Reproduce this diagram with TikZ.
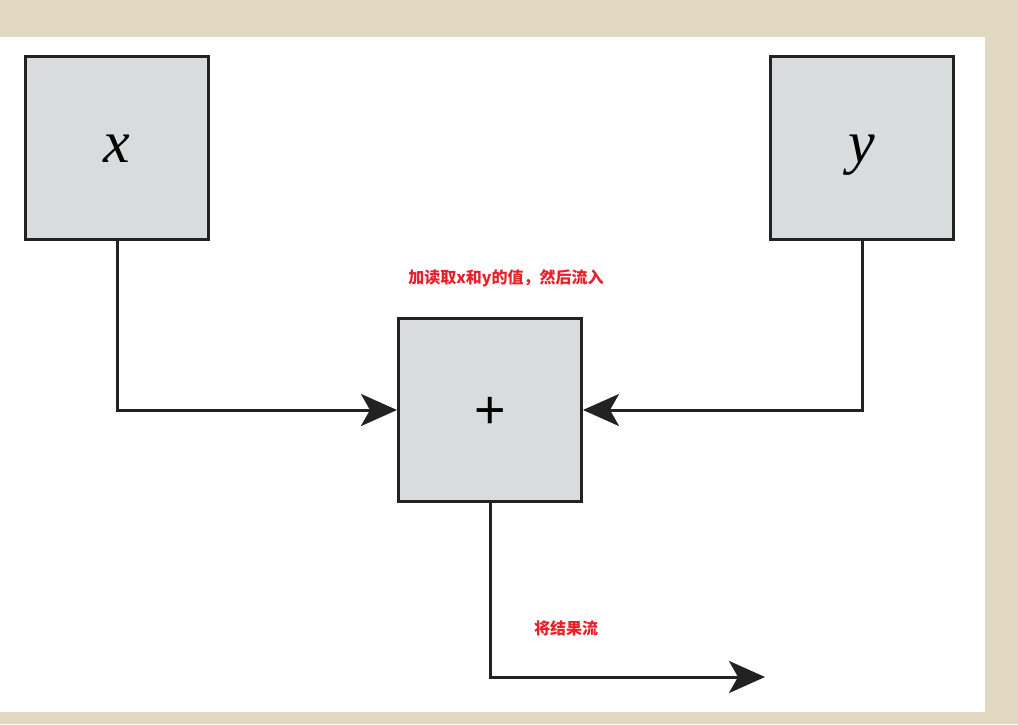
\documentclass[tikz,border=0pt]{standalone}
\usepackage{fontspec}
\newfontfamily\cjk{Noto Sans CJK SC}
\newfontfamily\timesish{Liberation Serif}
\newfontfamily\arialish{Liberation Sans}
\usetikzlibrary{arrows.meta,positioning}
\definecolor{pagebg}{HTML}{E0D8C0}
\definecolor{boxfill}{HTML}{D9DCDC}
\definecolor{boxline}{HTML}{222222}
\definecolor{notered}{HTML}{E8202A}
\newcommand{\side}{183}

\begin{document}
\begin{tikzpicture}[
      x=1pt, y=-1pt,
      block/.style={draw=boxline, fill=boxfill, line width=3pt, minimum size=\side pt, inner sep=0pt},
      varname/.style={font=\timesish\itshape\fontsize{60}{62}\selectfont, text height=28pt, text depth=0pt},
      flow/.style={draw=boxline, line width=3pt, -{Stealth[length=36pt,width=32pt,inset=9pt]}},
      note/.style={text=notered, font=\cjk\bfseries\fontsize{16}{19}\selectfont}
    ]
    % page and white panel
    \fill[pagebg] (0,0) rectangle (1018,724);
    \fill[white] (0,37) rectangle (985,712);
    \useasboundingbox (0,0) rectangle (1018,724);
    % the three boxes
    \node[block, varname] (xin) at (117,148) {x};
    \node[block, varname] (yin) at (862,148) {y};
    \node[block, font=\arialish\fontsize{54}{56}\selectfont, text height=37pt, text depth=0pt] (plus) at (490,410) {+};
    \coordinate (out) at (765,677);
    % connectors
    \draw[flow] (xin.south) |- (plus.west);
    \draw[flow] (yin.south) |- (plus.east);
    \draw[flow] (plus.south) |- (out);
    % notes
    \node[note] (readnote) at (506,278) {加读取x和y的值，然后流入};
    \node[note] (outnote) at (566,628) {将结果流};
\end{tikzpicture}
\end{document}
